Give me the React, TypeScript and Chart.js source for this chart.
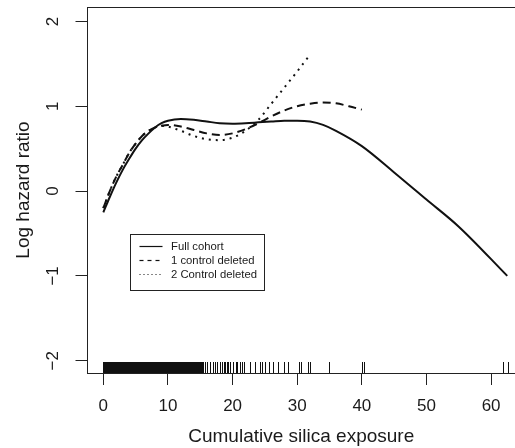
import React, { useEffect, useRef } from 'react';
import { Chart, registerables } from 'chart.js';

Chart.register(...registerables);

// ---- Data ----
const fullX = [0, 1, 2, 3, 4, 5, 6, 7, 8, 9, 10, 12, 14, 16, 18, 20, 22, 24, 26, 28, 30, 32, 34, 36, 40, 45, 50, 55, 62.5];
const fullY = [-0.25, -0.07, 0.1, 0.25, 0.38, 0.5, 0.6, 0.68, 0.75, 0.8, 0.83, 0.85, 0.84, 0.82, 0.8, 0.795, 0.8, 0.81, 0.82, 0.83, 0.83, 0.82, 0.78, 0.71, 0.53, 0.22, -0.1, -0.42, -1.0];

const dashX = [0, 1, 2, 3, 4, 5, 6, 7, 8, 9, 10, 12, 14, 16, 18, 20, 22, 24, 26, 28, 30, 32, 34, 36, 38, 40];
const dashY = [-0.2, 0.0, 0.17, 0.31, 0.45, 0.56, 0.65, 0.71, 0.75, 0.77, 0.78, 0.76, 0.72, 0.68, 0.66, 0.68, 0.73, 0.8, 0.88, 0.95, 1.0, 1.03, 1.045, 1.035, 1.0, 0.96];

const dotX = [0, 1, 2, 3, 4, 5, 6, 7, 8, 9, 10, 12, 14, 16, 18, 20, 22, 24, 26, 28, 30, 32];
const dotY = [-0.2, 0.0, 0.17, 0.31, 0.45, 0.56, 0.65, 0.71, 0.75, 0.77, 0.76, 0.71, 0.65, 0.61, 0.6, 0.63, 0.71, 0.84, 1.03, 1.22, 1.41, 1.61];

const rugValues = [
  0.0, 0.13, 0.27, 0.4, 0.52, 0.66, 0.79, 0.93, 1.05, 1.19, 1.32, 1.46, 1.58, 1.72, 1.85, 1.99, 2.11, 2.25, 2.38, 2.52,
  2.64, 2.78, 2.91, 3.05, 3.17, 3.31, 3.44, 3.58, 3.7, 3.84, 3.97, 4.11, 4.23, 4.37, 4.5, 4.64, 4.76, 4.9, 5.03, 5.17,
  5.29, 5.43, 5.56, 5.7, 5.82, 5.96, 6.09, 6.23, 6.35, 6.49, 6.62, 6.76, 6.88, 7.02, 7.15, 7.29, 7.41, 7.55, 7.68, 7.82,
  7.94, 8.08, 8.21, 8.35, 8.47, 8.61, 8.74, 8.88, 9.0, 9.14, 9.27, 9.41, 9.53, 9.67, 9.8, 9.94, 10.06, 10.2, 10.33, 10.47,
  10.59, 10.73, 10.86, 11.0, 11.12, 11.26, 11.39, 11.53, 11.65, 11.79, 11.92, 12.06, 12.18, 12.32, 12.45, 12.59, 12.71,
  12.85, 12.98, 13.12, 13.24, 13.38, 13.51, 13.65, 13.77, 13.91, 14.04, 14.18, 14.3, 14.44, 14.57, 14.71, 14.83, 14.97,
  15.1, 15.24, 15.37,
  15.7, 16.1, 16.5, 16.9, 17.3, 17.6, 18.1, 18.3, 18.6, 18.8, 19.1, 19.3, 19.6, 20.0, 20.5, 20.7, 21.2, 21.4, 21.8,
  22.7, 23.4, 24.2, 24.6, 25.0, 25.6, 26.3, 27.0, 28.0, 28.5, 30.3, 30.6, 31.7, 32.0, 34.9, 40.1, 40.4, 61.9, 62.6,
];

const xTicks = [0, 10, 20, 30, 40, 50, 60];
const yTicks = [-2, -1, 0, 1, 2];
const xTickLabels = ['0', '10', '20', '30', '40', '50', '60'];
const yTickLabels = ['\u22122', '\u22121', '0', '1', '2'];
const seriesNames = ['Full cohort', '1 control deleted', '2 Control deleted'];
const xTitle = 'Cumulative silica exposure';
const yTitle = 'Log hazard ratio';

const X_MIN = -2.45;
const X_MAX = 63.7;
const Y_MIN = -2.145;
const Y_MAX = 2.17;

const FONT = '"Liberation Sans", Arial, Helvetica, sans-serif';
const STRETCH = 1.0;
const INK = '#1a1a1a';

function drawText(ctx: CanvasRenderingContext2D, text: string, x: number, y: number, size: number, rotated: boolean, align: CanvasTextAlign = 'center') {
  ctx.save();
  ctx.translate(x, y);
  ctx.scale(STRETCH, 1);
  if (rotated) ctx.rotate(-Math.PI / 2);
  ctx.font = `${size}px ${FONT}`;
  ctx.fillStyle = INK;
  ctx.textAlign = align;
  ctx.textBaseline = 'middle';
  ctx.fillText(text, 0, 0);
  ctx.restore();
}

const customPlugin = {
  id: 'rStyle',
  afterDraw(chart: any) {
    const ctx: CanvasRenderingContext2D = chart.ctx;
    const area = chart.chartArea;
    const xs = chart.scales.x;
    const ys = chart.scales.y;
    ctx.save();
    // top border
    ctx.strokeStyle = '#222';
    ctx.lineWidth = 1;
    ctx.beginPath();
    ctx.moveTo(area.left, Math.round(area.top) + 0.5);
    ctx.lineTo(area.right, Math.round(area.top) + 0.5);
    ctx.stroke();

    // rug
    ctx.strokeStyle = '#111';
    ctx.lineWidth = 1;
    ctx.beginPath();
    for (const v of rugValues) {
      const px = Math.round(xs.getPixelForValue(v)) + 0.5;
      ctx.moveTo(px, area.bottom);
      ctx.lineTo(px, area.bottom - 11);
    }
    ctx.stroke();

    // tick labels
    xTicks.forEach((v, i) => {
      drawText(ctx, xTickLabels[i], xs.getPixelForValue(v), area.bottom + 33, 17, false);
    });
    yTicks.forEach((v, i) => {
      drawText(ctx, yTickLabels[i], area.left - 34, ys.getPixelForValue(v), 17, true);
    });

    // axis titles
    drawText(ctx, xTitle, (xs.getPixelForValue(X_MIN) + xs.getPixelForValue(X_MAX)) / 2, area.bottom + 64, 19, false);
    drawText(ctx, yTitle, area.left - 64, (area.top + area.bottom) / 2, 19, true);

    // legend
    const bx = area.left + 42;
    const by = 233.5;
    const bw = 134;
    const bh = 56;
    ctx.strokeStyle = '#222';
    ctx.lineWidth = 1;
    ctx.strokeRect(Math.round(bx) + 0.5, Math.round(by) + 0.5, bw, bh);
    const dashes = [[], [4, 4], [1, 3]];
    const rows = [246.5, 260.5, 274.5];
    rows.forEach((ry, i) => {
      ctx.save();
      ctx.strokeStyle = '#111';
      ctx.lineWidth = 1.2;
      ctx.setLineDash(dashes[i]);
      ctx.beginPath();
      ctx.moveTo(bx + 10, ry);
      ctx.lineTo(bx + 33, ry);
      ctx.stroke();
      ctx.restore();
      drawText(ctx, seriesNames[i], bx + 41.5, ry, 11.3, false, 'left');
    });
    ctx.restore();
  },
};

export default function App() {
  const canvasRef = useRef<HTMLCanvasElement | null>(null);

  useEffect(() => {
    document.body.style.margin = '0';
    const canvas = canvasRef.current;
    if (!canvas) return;
    const mk = (xa: number[], ya: number[]) => xa.map((x, i) => ({ x, y: ya[i] }));
    const base = {
      borderColor: '#111',
      borderWidth: 2,
      pointRadius: 0,
      fill: false,
      cubicInterpolationMode: 'monotone' as const,
      borderCapStyle: 'butt' as const,
    };
    const chart = new Chart(canvas, {
      type: 'line',
      data: {
        datasets: [
          { ...base, label: seriesNames[0], data: mk(fullX, fullY) },
          { ...base, label: seriesNames[1], data: mk(dashX, dashY), borderDash: [8, 5] },
          { ...base, label: seriesNames[2], data: mk(dotX, dotY), borderDash: [2, 5] },
        ],
      },
      options: {
        responsive: false,
        animation: false,
        events: [],
        layout: { padding: { top: 7, left: 0, right: 0, bottom: 0 } },
        plugins: { legend: { display: false }, tooltip: { enabled: false } },
        scales: {
          x: {
            type: 'linear',
            min: X_MIN,
            max: X_MAX,
            afterBuildTicks: (s: any) => {
              s.ticks = xTicks.map((v) => ({ value: v }));
            },
            afterFit: (s: any) => {
              s.height = 75;
            },
            ticks: { display: false },
            grid: { drawOnChartArea: false, drawTicks: true, tickLength: 12, color: '#222', lineWidth: 1 },
            border: { display: true, color: '#222', width: 1 },
          },
          y: {
            type: 'linear',
            min: Y_MIN,
            max: Y_MAX,
            afterBuildTicks: (s: any) => {
              s.ticks = yTicks.map((v) => ({ value: v }));
            },
            afterFit: (s: any) => {
              s.width = 87.5;
            },
            ticks: { display: false },
            grid: { drawOnChartArea: false, drawTicks: true, tickLength: 12, color: '#222', lineWidth: 1 },
            border: { display: true, color: '#222', width: 1 },
          },
        },
      },
      plugins: [customPlugin],
    });
    return () => chart.destroy();
  }, []);

  return (
    <div style={{ position: 'absolute', left: 0, top: 0, width: 515, height: 448, background: '#fff' }}>
      <canvas ref={canvasRef} width={515} height={448} />
    </div>
  );
}
